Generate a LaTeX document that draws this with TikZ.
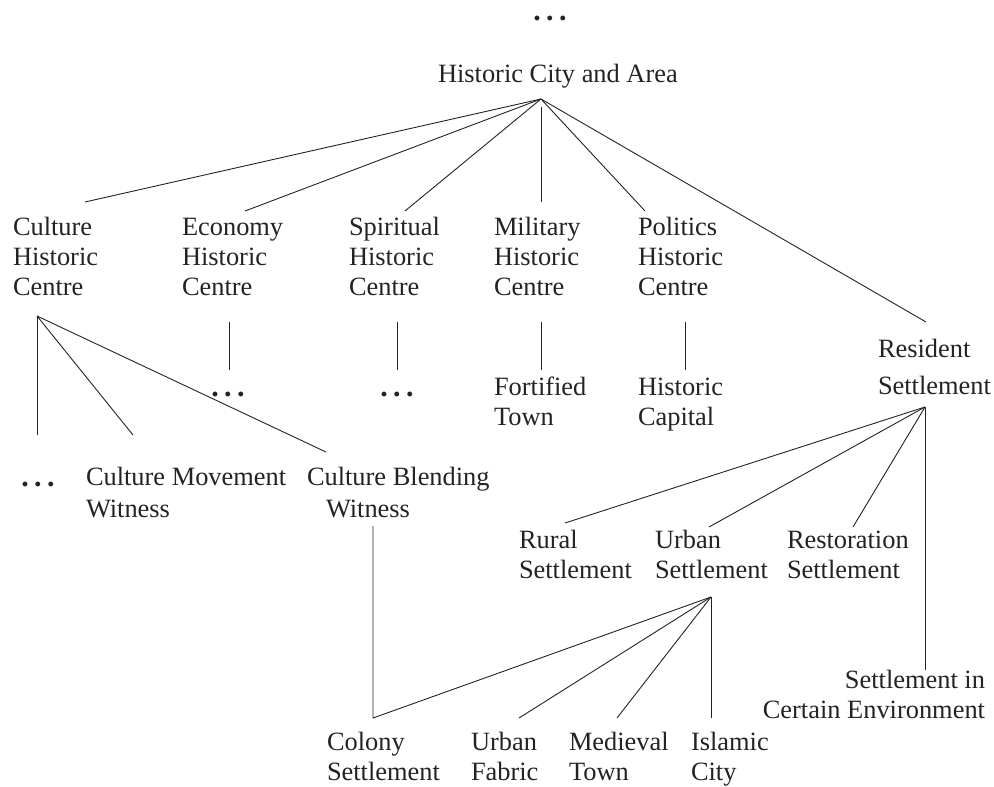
\documentclass[tikz,border=0pt]{standalone}
\usepackage{fontspec}
\setmainfont{Liberation Serif}
\newcommand{\tridots}{.\hspace{5.5pt}.\hspace{5.5pt}.}
\begin{document}
\begin{tikzpicture}[x=1pt,y=-1pt,
  lbl/.style={anchor=base west,inner sep=0pt,outer sep=0pt,align=left,
    font=\fontsize{26.4}{30}\selectfont,text=ink},
  lblr/.style={lbl,anchor=base east,align=right},
  more/.style={anchor=base,inner sep=0pt,font=\fontsize{30}{30}\selectfont\bfseries,text=ink},
  edge/.style={draw=ink,line width=0.9pt}]
\definecolor{ink}{RGB}{35,35,35}
\useasboundingbox (0,0) rectangle (994,787);

% ---- labels (each placed at the baseline of its last line) ----
\node[more] (topmore) at (550,20) {\tridots};
\node[lbl] (root) at (438,82) {Historic City and Area};

\node[lbl] (cult) at (13,295)  {Culture\\Historic\\Centre};
\node[lbl] (econ) at (182,295) {Economy\\Historic\\Centre};
\node[lbl] (spir) at (349,295) {Spiritual\\Historic\\Centre};
\node[lbl] (mil)  at (494,295) {Military\\Historic\\Centre};
\node[lbl] (pol)  at (638,295) {Politics\\Historic\\Centre};
\node[lbl] (res)  at (878,394) {Resident\\[7pt]Settlement};

\node[more] (econmore) at (228,396) {\tridots};
\node[more] (spirmore) at (397,396) {\tridots};
\node[lbl] (fort) at (494,425) {Fortified\\Town};
\node[lbl] (capi) at (638,425) {Historic\\Capital};

\node[more] (cultmore) at (38,486) {\tridots};
\node[lbl] (cmw) at (86,517)  {Culture Movement\\[2pt]Witness};
\node[lbl] (cbw) at (307,517) {Culture Blending\\[2pt]\hspace*{19pt}Witness};

\node[lbl] (rural) at (519,578) {Rural\\Settlement};
\node[lbl] (urban) at (655,578) {Urban\\Settlement};
\node[lbl] (resto) at (787,578) {Restoration\\Settlement};
\node[lblr] (env) at (985,718) {Settlement in\\Certain Environment};

\node[lbl] (colony)   at (327,780) {Colony\\Settlement};
\node[lbl] (fabric)   at (471,780) {Urban\\Fabric};
\node[lbl] (medieval) at (569,780) {Medieval\\Town};
\node[lbl] (islamic)  at (691,780) {Islamic\\City};

% ---- junction and end points of the connectors ----
\coordinate (rootJ) at (541,99);
\coordinate (milJ)  at (541,107);
\coordinate (cultT) at (85,202);
\coordinate (econT) at (245,211);
\coordinate (spirT) at (405,211);
\coordinate (milT)  at (541,202);
\coordinate (polT)  at (645,211);
\coordinate (resT)  at (926,322);

\coordinate (cultJ)  at (37,316);
\coordinate (cultmT) at (37,435);
\coordinate (cmwT)   at (133,435);
\coordinate (cbwT)   at (326,452);

\coordinate (econB) at (229,322);  \coordinate (econmT) at (229,370);
\coordinate (spirB) at (397,322);  \coordinate (spirmT) at (397,370);
\coordinate (milB)  at (541,322);  \coordinate (fortT)  at (541,370);
\coordinate (polB)  at (685,322);  \coordinate (capiT)  at (685,370);

\coordinate (resJ)   at (925,407);
\coordinate (ruralT) at (565,523);
\coordinate (urbanT) at (709,527);
\coordinate (restoT) at (853,527);
\coordinate (envT)   at (925,670);

\coordinate (cbwB)    at (373,526);
\coordinate (colonyT) at (373,718);
\coordinate (urbanJ)  at (711,597);
\coordinate (fabricT) at (519,718);
\coordinate (medT)    at (617,718);
\coordinate (islT)    at (711,718);

% ---- connectors ----
\draw[edge] (rootJ) -- (cultT);
\draw[edge] (rootJ) -- (econT);
\draw[edge] (rootJ) -- (spirT);
\draw[edge] (milJ)  -- (milT);
\draw[edge] (rootJ) -- (polT);
\draw[edge] (rootJ) -- (resT);

\draw[edge] (cultJ) -- (cultmT);
\draw[edge] (cultJ) -- (cmwT);
\draw[edge] (cultJ) -- (cbwT);

\draw[edge] (econB) -- (econmT);
\draw[edge] (spirB) -- (spirmT);
\draw[edge] (milB)  -- (fortT);
\draw[edge] (polB)  -- (capiT);

\draw[edge] (resJ) -- (ruralT);
\draw[edge] (resJ) -- (urbanT);
\draw[edge] (resJ) -- (restoT);
\draw[edge] (resJ) -- (envT);

\draw[edge] (cbwB) -- (colonyT) -- (urbanJ);
\draw[edge] (urbanJ) -- (fabricT);
\draw[edge] (urbanJ) -- (medT);
\draw[edge] (urbanJ) -- (islT);
\end{tikzpicture}
\end{document}
